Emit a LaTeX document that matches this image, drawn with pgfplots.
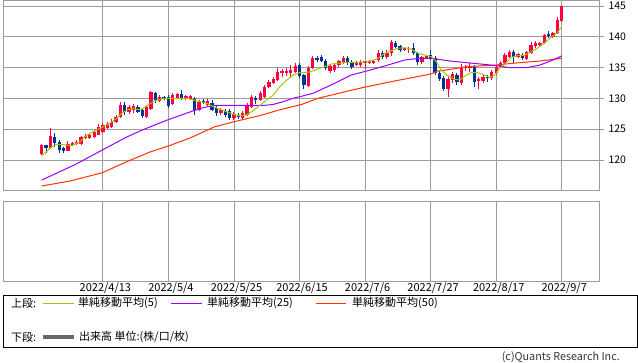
\documentclass[border=0pt]{standalone}
\usepackage{fontspec}
\setmainfont{Noto Sans CJK JP}
\usepackage{pgfplots}
\usepackage{pgfplotstable}
\pgfplotsset{compat=1.18}

\definecolor{upred}{HTML}{FF0040}
\definecolor{dnblue}{HTML}{003399}
\definecolor{maA}{HTML}{99CC00}
\definecolor{maB}{HTML}{9900FF}
\definecolor{maC}{HTML}{FF3300}
\definecolor{gridgray}{HTML}{9C9C9C}
\definecolor{volgray}{HTML}{666666}
\newcommand\tf{\fontsize{10.5pt}{12pt}\selectfont}
\newcommand\lf{\fontsize{11pt}{12pt}\selectfont}

% up (red) candles: index open high low close
\pgfplotstableread{
i o h l c
0 121.0 122.6 120.8 122.4
2 122.0 125.2 121.8 123.9
6 121.5 123.1 121.4 122.6
7 122.4 123.0 122.3 122.8
8 122.6 123.2 122.4 122.9
9 122.6 123.9 122.4 123.7
10 123.6 124.2 123.4 123.9
11 123.6 124.3 123.4 124.1
12 123.7 124.8 123.6 124.6
13 124.1 125.8 124.0 125.4
14 124.6 126.0 124.4 125.7
15 125.2 126.2 125.0 125.9
16 125.4 126.6 125.2 126.2
17 126.2 127.3 126.0 127.0
18 127.0 129.4 126.8 128.9
20 127.8 128.9 127.5 128.6
21 128.1 129.1 127.6 128.8
24 127.0 128.9 126.8 128.6
25 128.3 131.2 128.1 131.0
27 129.6 130.5 129.4 130.2
30 129.1 130.9 128.9 130.6
31 130.1 130.9 129.9 130.7
33 129.9 130.6 129.7 130.4
34 129.9 130.6 129.7 130.4
36 128.1 129.7 127.9 129.4
38 128.9 129.9 128.8 129.6
41 127.6 128.4 127.3 128.1
44 126.8 127.8 126.5 127.5
46 126.8 127.9 126.5 127.6
47 127.3 129.2 127.1 128.8
48 128.6 130.5 128.4 130.2
50 129.7 131.2 129.5 130.9
51 130.2 132.2 130.0 131.9
52 131.9 133.0 131.7 132.7
53 132.5 133.5 132.3 133.2
54 133.0 134.9 132.8 134.3
55 134.1 134.8 133.5 134.4
56 134.1 135.0 133.6 134.4
57 134.1 135.4 133.5 134.6
58 134.3 135.7 134.1 135.3
61 132.0 135.3 131.8 134.9
62 134.9 136.9 134.8 136.6
66 134.5 135.6 134.2 135.3
67 134.6 135.8 134.3 135.4
68 135.4 136.3 135.1 136.1
69 135.9 136.9 135.6 136.6
72 135.4 136.0 135.2 135.8
73 135.4 136.2 135.1 135.9
74 135.7 136.1 134.8 136.0
75 135.8 136.3 135.6 136.1
76 135.8 136.3 135.6 136.1
77 136.2 137.8 135.9 137.4
79 136.7 137.9 136.4 137.4
80 137.4 139.5 136.9 139.2
83 137.9 138.4 137.7 138.2
84 138.0 138.4 137.3 138.2
87 135.9 136.9 135.6 136.7
88 136.6 137.1 136.4 136.9
93 131.5 133.4 130.2 133.1
94 133.0 134.3 132.5 134.0
96 132.5 135.6 132.2 134.9
97 134.9 135.4 134.5 135.1
98 134.9 135.7 134.3 135.1
100 132.8 133.4 131.5 133.2
101 132.8 133.8 132.5 133.5
103 133.3 134.6 133.0 134.3
104 134.1 135.4 133.8 135.1
105 135.1 136.0 134.9 135.8
106 135.8 137.3 135.6 137.1
107 136.7 137.9 136.5 137.5
109 136.7 137.4 136.5 137.2
111 136.4 137.7 136.2 137.5
112 137.4 139.1 137.2 138.7
113 138.5 139.3 138.2 139.0
114 138.7 139.2 138.4 139.0
115 139.0 140.5 138.8 140.3
117 140.0 140.8 139.8 140.6
118 140.6 143.2 140.4 142.7
119 142.6 145.0 142.4 145.0
}\up

% down (blue) candles: index open high low close
\pgfplotstableread{
i o h l c
1 122.4 122.5 121.1 122.0
3 123.7 124.4 122.1 122.8
4 122.9 123.3 121.1 121.6
5 122.0 122.1 121.1 121.5
19 128.9 129.4 127.3 127.8
22 128.6 128.9 127.6 127.8
23 128.1 128.3 126.8 127.2
26 130.9 131.0 129.3 129.7
28 130.2 130.4 129.7 129.9
29 130.2 130.6 128.4 128.8
32 130.7 131.4 129.7 129.9
35 129.9 130.2 127.3 128.1
37 129.6 129.9 129.1 129.3
39 129.3 129.8 127.9 128.1
40 128.4 128.8 127.2 127.6
42 128.0 128.3 127.0 127.3
43 128.0 128.3 126.5 126.8
45 127.3 127.6 126.7 127.0
49 130.1 130.4 129.1 129.7
59 135.4 135.7 133.3 133.6
60 133.8 134.0 131.5 132.2
63 136.6 136.9 135.9 136.2
64 136.7 137.0 135.9 136.1
65 136.1 136.4 134.6 134.9
70 136.6 136.9 135.4 135.8
71 135.9 136.2 134.8 135.1
78 137.4 137.7 136.4 136.7
81 139.0 139.3 138.1 138.4
82 138.5 138.7 137.6 137.9
85 138.2 139.0 137.1 137.4
86 137.4 137.6 135.4 135.9
89 137.0 137.9 136.2 136.4
90 136.6 136.9 133.8 134.1
91 134.1 134.4 132.9 133.2
92 133.3 133.6 131.2 131.5
95 133.8 134.1 132.2 132.7
99 135.1 135.4 131.8 132.7
102 133.5 133.8 132.7 133.3
108 137.5 137.8 135.7 136.7
110 137.1 137.3 136.3 136.6
116 140.5 140.9 139.8 140.1
}\down

\pgfplotstableread{
i v
0 120.65
1.1 121.35
2.3 122.16
3.4 122.55
5.7 122.44
6.9 122.33
8.8 122.98
9.9 123.79
11.1 124.34
12.6 124.87
13.7 125.25
15.6 125.96
17.2 126.77
18.3 127.58
19.5 128.12
21.0 128.39
22.5 128.12
24.0 128.77
25.5 129.47
27.1 129.86
28.6 130.02
31.6 130.02
33.2 130.02
34.7 129.74
36.2 129.47
37.8 129.21
39.3 128.66
40.8 128.23
42.3 127.85
43.8 127.42
45.4 127.15
46.9 127.31
48.4 128.01
50.0 128.93
51.5 129.74
53.0 130.55
54.5 131.90
56.1 132.99
57.6 133.80
59.1 134.18
60.6 134.18
62.2 134.50
63.7 134.89
64.8 135.15
66.3 135.59
67.8 135.70
69.3 135.80
70.8 135.86
73.9 135.91
75.4 136.07
77.0 136.51
78.5 137.32
80.0 137.75
81.5 138.13
83.1 138.23
84.6 137.97
86.1 137.32
87.6 137.05
89.2 136.77
90.3 135.96
91.4 134.61
93.0 133.64
94.5 133.10
95.7 132.99
96.8 133.64
98.3 134.18
99.8 134.18
101.4 133.80
102.5 133.36
103.7 133.80
104.8 134.89
105.9 135.54
107.5 136.67
109.0 136.93
110.5 137.00
112.0 137.58
113.6 138.23
115.1 139.04
116.6 139.92
117.8 140.57
119.0 141.60
}\maA

\pgfplotstableread{
i v
0 116.75
7.46 119.19
13.87 121.62
19.29 123.68
23.02 124.87
28.74 126.49
34.10 127.84
36.38 128.39
39.43 128.88
51.10 128.88
52.93 129.01
55.22 129.46
57.51 130.02
59.11 130.28
62.08 130.83
63.23 131.20
67.05 132.45
70.85 133.80
73.75 134.33
78.49 135.26
83.07 136.23
86.11 136.48
89.02 136.51
93.43 136.07
97.25 135.80
100.98 135.54
104.12 135.31
107.16 134.98
110.98 134.98
114.03 135.42
117.0 136.23
119.0 136.90
}\maB

\pgfplotstableread{
i v
0 115.78
6.48 116.59
13.87 117.94
19.29 119.67
24.78 121.30
28.97 122.27
33.94 123.57
39.43 125.36
43.78 126.17
50.41 127.30
54.30 128.12
59.57 129.04
63.23 130.02
68.26 130.88
73.75 131.80
79.24 132.61
81.99 132.99
89.08 133.96
90.69 134.45
91.83 134.53
97.32 135.15
103.96 135.42
107.85 135.70
114.03 136.07
119.0 136.51
}\maC

\begin{document}
\begin{tikzpicture}
\useasboundingbox (0,0) rectangle (638pt,-362pt);

% ---------- upper panel ----------
\begin{axis}[
  at={(3pt,0pt)}, anchor=north west,
  scale only axis, width=596pt, height=190pt,
  xmin=-8.86, xmax=127.53, ymin=115.13, ymax=145.97,
  axis line style={draw=gridgray, line width=0.9pt},
  xtick={14,29,44,59,74,89,104,119}, xticklabels={},
  xmajorgrids, ymajorgrids,
  grid style={draw=gridgray, line width=0.9pt},
  ytick={120,125,130,135,140,145},
  ytick pos=right, yticklabel pos=right,
  tick align=outside, major tick length=5pt,
  ytick style={draw=gridgray, line width=0.9pt},
  xtick style={draw=none},
  /pgf/number format/assume math mode=true,
  yticklabel style={font=\tf, xshift=1pt},
]
% wicks
\addplot[draw=none, mark=none, error bars/.cd, y dir=plus, y explicit, error mark=none,
  error bar style={draw=upred, line width=1pt, solid}]
  table[x=i, y=l, y error expr=\thisrow{h}-\thisrow{l}]{\up};
\addplot[draw=none, mark=none, error bars/.cd, y dir=plus, y explicit, error mark=none,
  error bar style={draw=dnblue, line width=1pt, solid}]
  table[x=i, y=l, y error expr=\thisrow{h}-\thisrow{l}]{\down};
% bodies
\addplot[draw=none, mark=none, error bars/.cd, y dir=plus, y explicit, error mark=none,
  error bar style={draw=upred, line width=3.3pt, solid}]
  table[x=i, y=o, y error expr=\thisrow{c}-\thisrow{o}]{\up};
\addplot[draw=none, mark=none, error bars/.cd, y dir=plus, y explicit, error mark=none,
  error bar style={draw=dnblue, line width=3.3pt, solid}]
  table[x=i, y=c, y error expr=\thisrow{o}-\thisrow{c}]{\down};
% moving averages
\addplot[maC, line width=1pt, mark=none] table[x=i, y=v]{\maC};
\addplot[maB, line width=1pt, mark=none] table[x=i, y=v]{\maB};
\addplot[maA, line width=1pt, mark=none] table[x=i, y=v]{\maA};
\end{axis}

% ---------- lower panel ----------
\begin{axis}[
  at={(3pt,-201pt)}, anchor=north west,
  scale only axis, width=596pt, height=80pt,
  xmin=-8.86, xmax=127.53, ymin=0, ymax=1,
  axis line style={draw=gridgray, line width=0.9pt},
  xtick={14,29,44,59,74,89,104,119},
  xticklabels={2022/4/13,2022/5/4,2022/5/25,2022/6/15,2022/7/6,2022/7/27,2022/8/17,2022/9/7},
  xmajorgrids,
  grid style={draw=gridgray, line width=0.9pt},
  ytick=\empty,
  tick align=inside, major tick length=0pt,
  xtick style={draw=none},
  xticklabel style={font=\lf, xshift=2.5pt, yshift=1.5pt},
]
\end{axis}

% ---------- legend ----------
\draw[black, line width=0.8pt] (3pt,-295pt) rectangle (637pt,-347pt);
\node[anchor=west, inner sep=0pt, font=\lf] at (11pt,-303pt) {上段:};
\draw[maA, line width=1pt] (43pt,-303.3pt) -- (74pt,-303.3pt);
\node[anchor=west, inner sep=0pt, font=\lf] at (78pt,-303pt) {単純移動平均(5)};
\draw[maB, line width=1pt] (171pt,-303.3pt) -- (202pt,-303.3pt);
\node[anchor=west, inner sep=0pt, font=\lf] at (207pt,-303pt) {単純移動平均(25)};
\draw[maC, line width=1pt] (316pt,-303.3pt) -- (346pt,-303.3pt);
\node[anchor=west, inner sep=0pt, font=\lf] at (352pt,-303pt) {単純移動平均(50)};
\node[anchor=west, inner sep=0pt, font=\lf] at (11pt,-337pt) {下段:};
\draw[volgray, line width=4pt] (43pt,-336.7pt) -- (74pt,-336.7pt);
\node[anchor=west, inner sep=0pt, font=\lf] at (79pt,-337pt) {出来高 単位:(株/口/枚)};
\node[anchor=east, inner sep=0pt, font=\fontsize{10.8pt}{11pt}\selectfont, text=black!80] at (620pt,-357pt) {(c)Quants Research Inc.};
\end{tikzpicture}
\end{document}
